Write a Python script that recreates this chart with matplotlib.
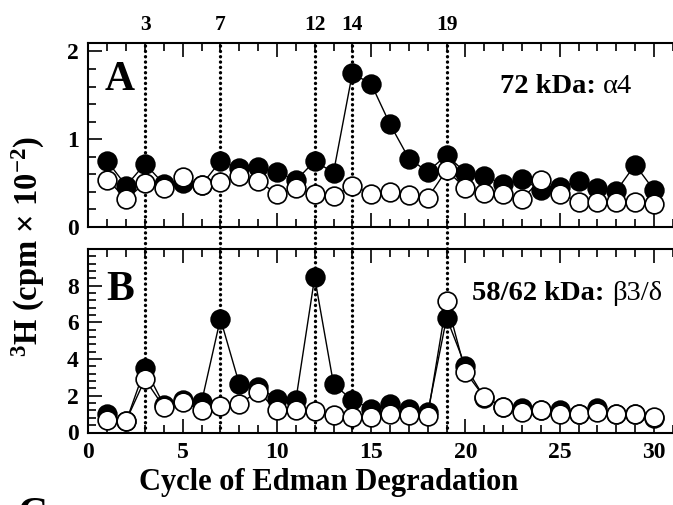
import matplotlib
matplotlib.use("Agg")
import matplotlib.pyplot as plt
import matplotlib.transforms as mtransforms
from matplotlib.lines import Line2D
from matplotlib.ticker import MultipleLocator

plt.rcParams['font.family'] = ['Liberation Serif', 'DejaVu Serif']
plt.rcParams['font.weight'] = 'bold'
plt.rcParams['mathtext.fontset'] = 'custom'
plt.rcParams['mathtext.rm'] = 'Liberation Serif:bold'
plt.rcParams['mathtext.bf'] = 'Liberation Serif:bold'
plt.rcParams['mathtext.it'] = 'Liberation Serif:bold'
plt.rcParams['mathtext.default'] = 'rm'

cycles = list(range(1, 31))
a_filled = [0.75, 0.47, 0.72, 0.49, 0.50, 0.48, 0.75, 0.67, 0.68, 0.63,
            0.53, 0.75, 0.62, 1.75, 1.63, 1.17, 0.78, 0.63, 0.82, 0.62,
            0.58, 0.49, 0.55, 0.42, 0.46, 0.52, 0.45, 0.41, 0.71, 0.42]
a_open = [0.54, 0.32, 0.50, 0.45, 0.57, 0.48, 0.51, 0.58, 0.52, 0.38,
          0.44, 0.38, 0.35, 0.47, 0.38, 0.40, 0.37, 0.33, 0.65, 0.44,
          0.39, 0.38, 0.32, 0.54, 0.38, 0.29, 0.28, 0.28, 0.29, 0.26]
b_filled = [1.0, 0.6, 3.5, 1.5, 1.75, 1.65, 6.2, 2.65, 2.5, 1.8,
            1.75, 8.45, 2.65, 1.75, 1.3, 1.55, 1.3, 1.1, 6.25, 3.6,
            1.9, 1.4, 1.35, 1.2, 1.25, 1.0, 1.35, 1.0, 1.0, 0.8]
b_open = [0.7, 0.65, 2.9, 1.38, 1.65, 1.23, 1.43, 1.56, 2.23, 1.2,
          1.2, 1.16, 0.98, 0.83, 0.83, 1.02, 0.98, 0.92, 7.15, 3.3,
          1.92, 1.41, 1.1, 1.2, 1.0, 1.02, 1.1, 1.02, 1.02, 0.83]
marked_cycles = [3, 7, 12, 14, 19]
x_ticks = [0, 5, 10, 15, 20, 25, 30]
a_yticks = [0, 1, 2]
b_yticks = [0, 2, 4, 6, 8]

W, H = 673, 505
fig = plt.figure(figsize=(W / 100, H / 100), dpi=100)

def rect(left, top, right, bottom):
    return [left / W, 1 - bottom / H, (right - left) / W, (bottom - top) / H]

axA = fig.add_axes(rect(88.45, 42.7, 674.5, 227))
axB = fig.add_axes(rect(88.45, 249, 674.5, 432.5))

dot_kw = dict(color='black', lw=2.4, linestyle=(0, (0.05, 1.55)),
              dash_capstyle='round', zorder=1)

for ax, filled, opened, ylim, yt, ymin in [
        (axA, a_filled, a_open, (0, 2.1), a_yticks, 0.2),
        (axB, b_filled, b_open, (0, 10), b_yticks, 0.4)]:
    ax.set_facecolor('none')
    for c in marked_cycles:
        ax.axvline(c, **dot_kw)
    ax.plot(cycles, filled, '-o', color='black', lw=1.0, ms=13.5,
            mfc='black', mec='black', mew=1.2, zorder=3)
    ax.plot(cycles, opened, '-o', color='black', lw=1.0, ms=13.5,
            mfc='white', mec='black', mew=1.2, zorder=4)
    ax.set_xlim(0, 31.09)
    ax.set_ylim(*ylim)
    ax.set_yticks(yt)
    ax.yaxis.set_minor_locator(MultipleLocator(ymin))
    ax.set_xticks(x_ticks)
    ax.xaxis.set_minor_locator(MultipleLocator(1))
    ax.tick_params(which='both', direction='in', top=True, bottom=True,
                   left=True, right=False, width=1.2)
    ax.tick_params(which='major', length=10, labelsize=17, pad=7)
    ax.tick_params(which='minor', length=5.5)
    for s in ax.spines.values():
        s.set_linewidth(1.5)
    for lab in ax.get_yticklabels():
        lab.set_fontweight('bold')

axA.tick_params(axis='x', labelbottom=False)
for lab in axB.get_xticklabels():
    lab.set_fontweight('bold')

# dotted lines through the gap between panels
trans = mtransforms.blended_transform_factory(axB.transData, fig.transFigure)
for c in marked_cycles:
    fig.add_artist(Line2D([c, c], [1 - 227 / H, 1 - 249 / H], transform=trans,
                          **dot_kw))
    axA.text(c, 1.0 + 18 / 184.3, str(c), transform=axA.get_xaxis_transform(),
             ha='center', va='center', fontsize=15.5, fontweight='bold')

axA.text(105 / W, 1 - 90 / H, 'A', transform=fig.transFigure, fontsize=30,
         fontweight='bold', ha='left', va='baseline')
axB.text(106 / W, 1 - 300 / H, 'B', transform=fig.transFigure, fontsize=30,
         fontweight='bold', ha='left', va='baseline')

fig.text(603 / W, 1 - 93 / H, '72 kDa: ', fontsize=20.5, fontweight='bold',
         ha='right', va='baseline')
fig.text(603 / W, 1 - 93 / H, '\u03b14', fontsize=20.5, fontweight='normal',
         ha='left', va='baseline')
fig.text(612 / W, 1 - 300 / H, '58/62 kDa: ', fontsize=20.5, fontweight='bold',
         ha='right', va='baseline')
fig.text(612 / W, 1 - 300 / H, '\u03b23/\u03b4', fontsize=20.5, fontweight='normal',
         ha='left', va='baseline')

fig.text(329 / W, 1 - 490 / H, 'Cycle of Edman Degradation', fontsize=22,
         fontweight='bold', ha='center', va='baseline')
fig.text(28 / W, 1 - 246 / H, '$^{3}$H (cpm \u00d7 10$^{-2}$)',
         fontsize=23.5, fontweight='bold', rotation=90, ha='center', va='center')

fig.text(18 / W, 1 - 497 / H, 'C', fontsize=30, fontweight='bold',
         ha='left', va='top')

fig.savefig('out.png', dpi=100)
